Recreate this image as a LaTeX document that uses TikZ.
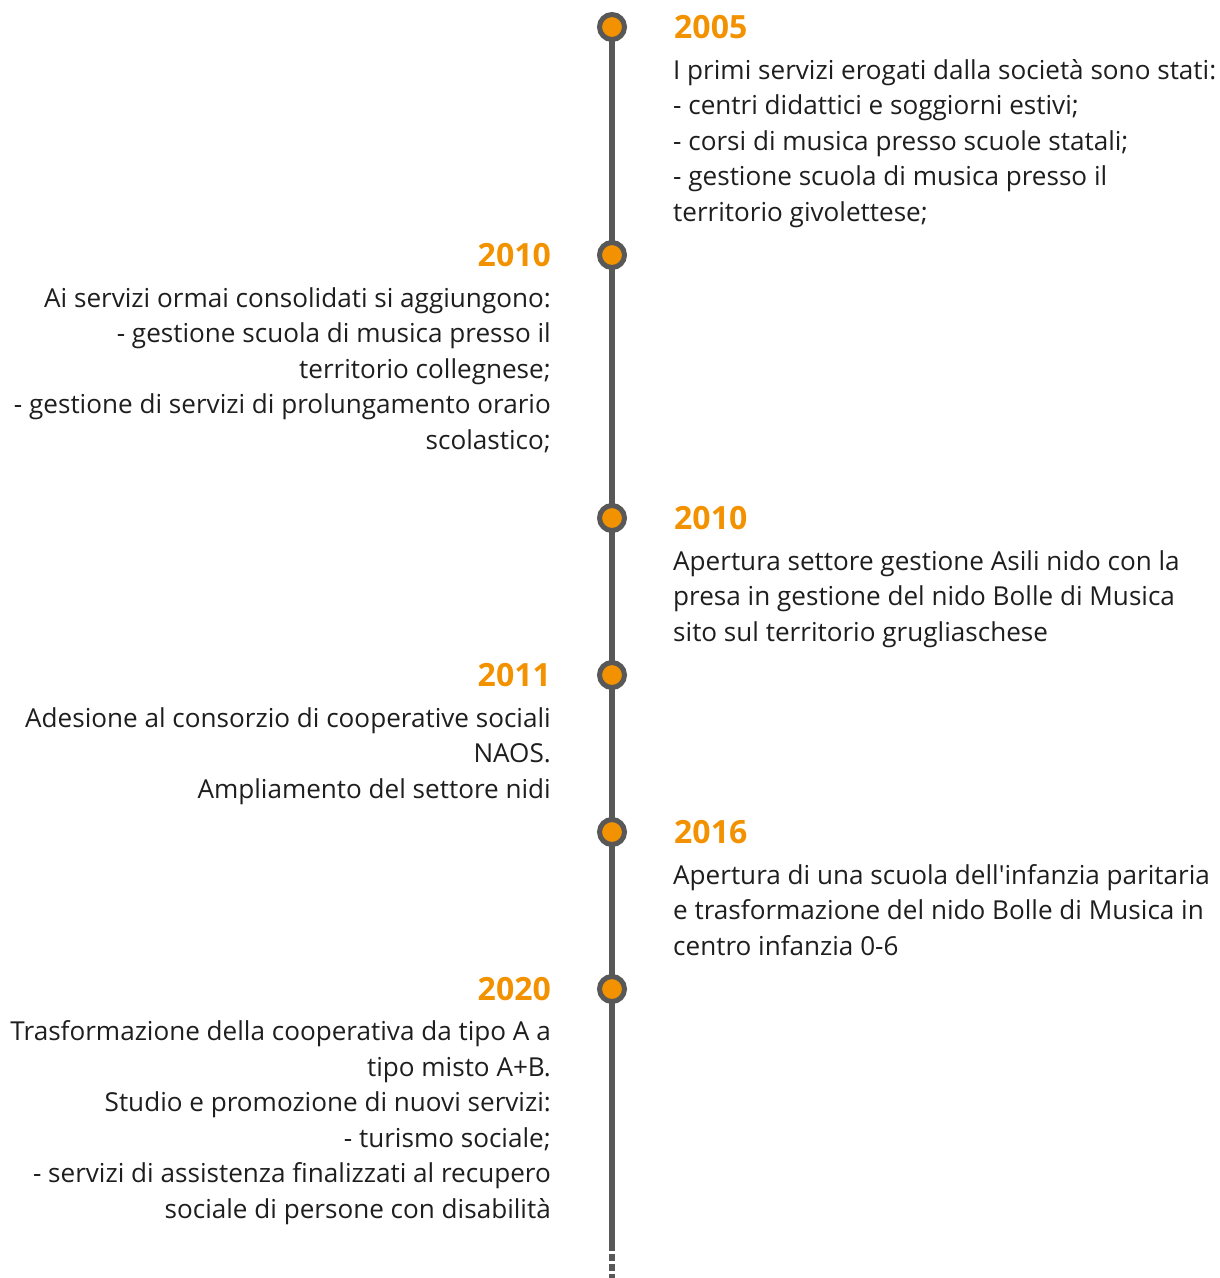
\documentclass[tikz,border=0pt]{standalone}
\usepackage{fontspec}
\setmainfont{Open Sans}[Ligatures=TeXOff]
\definecolor{tlorange}{RGB}{243,146,0}
\definecolor{tlgray}{RGB}{88,88,88}
\definecolor{tltext}{RGB}{30,30,30}
\begin{document}
\begin{tikzpicture}[x=1pt,y=-1pt,
  year/.style={font=\fontsize{32}{32}\selectfont\bfseries, text=tlorange, inner sep=0pt},
  rbody/.style={font=\fontsize{26.1}{35.5}\selectfont, text=tltext, align=left, inner sep=0pt, anchor=base west},
  lbody/.style={font=\fontsize{26.1}{35.5}\selectfont, text=tltext, align=right, inner sep=0pt, anchor=base east},
  dot/.style={circle, draw=tlgray, line width=5pt, fill=tlorange, minimum size=25pt, inner sep=0pt},
  axis/.style={draw=tlgray, line width=6pt}]
\useasboundingbox (0,0) rectangle (1220,1278);
\coordinate (top) at (612,27);
\coordinate (solidend) at (612,1251);
\coordinate (dstart) at (612,1254);
\coordinate (bottom) at (612,1278);
\draw[axis] (top) -- (solidend);
\draw[axis, dash pattern=on 7pt off 3pt] (dstart) -- (bottom);
\node[dot] (d1) at (612,27) {};
\node[dot] (d2) at (612,255) {};
\node[dot] (d3) at (612,518) {};
\node[dot] (d4) at (612,675) {};
\node[dot] (d5) at (612,832) {};
\node[dot] (d6) at (612,989) {};
% years
\node[year, anchor=west] (y1) at (674,27) {2005};
\node[year, anchor=east] (y2) at (551,255) {2010};
\node[year, anchor=west] (y3) at (674,518) {2010};
\node[year, anchor=east] (y4) at (551,675) {2011};
\node[year, anchor=west] (y5) at (674,832) {2016};
\node[year, anchor=east] (y6) at (551,989) {2020};
% bodies (anchored at the baseline of the last line)
\node[rbody] (t1) at (673,221) {I primi servizi erogati dalla società sono stati:\\- centri didattici e soggiorni estivi;\\- corsi di musica presso scuole statali;\\- gestione scuola di musica presso il\\territorio givolettese;};
\node[lbody] (t2) at (551,449) {Ai servizi ormai consolidati si aggiungono:\\- gestione scuola di musica presso il\\territorio collegnese;\\- gestione di servizi di prolungamento orario\\scolastico;};
\node[rbody] (t3) at (673,641) {Apertura settore gestione Asili nido con la\\presa in gestione del nido Bolle di Musica\\sito sul territorio grugliaschese};
\node[lbody] (t4) at (551,798) {Adesione al consorzio di cooperative sociali\\NAOS.\\Ampliamento del settore nidi};
\node[rbody] (t5) at (673,955) {Apertura di una scuola dell'infanzia paritaria\\e trasformazione del nido Bolle di Musica in\\centro infanzia 0-6};
\node[lbody] (t6) at (551,1218) {Trasformazione della cooperativa da tipo A a\\tipo misto A+B.\\Studio e promozione di nuovi servizi:\\- turismo sociale;\\- servizi di assistenza finalizzati al recupero\\sociale di persone con disabilità};
\end{tikzpicture}
\end{document}
